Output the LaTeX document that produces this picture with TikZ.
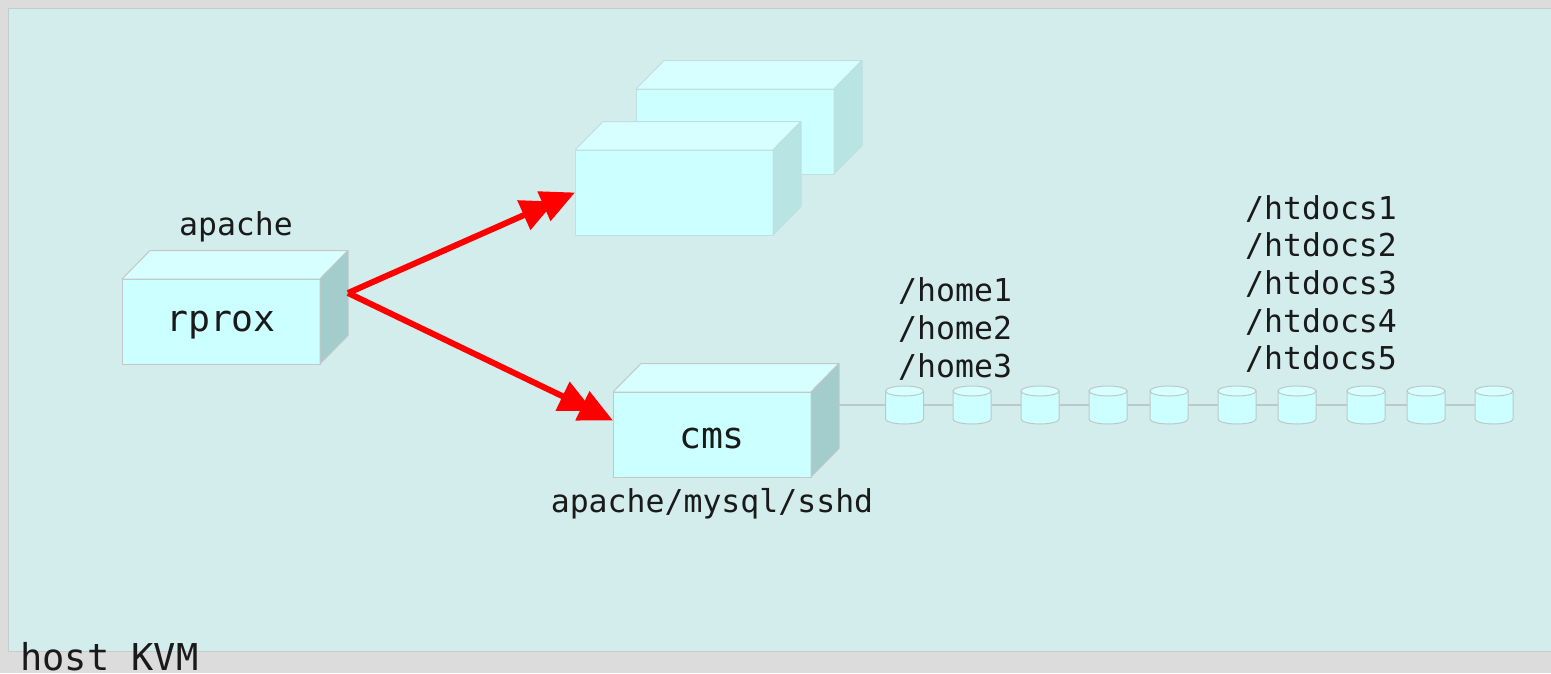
\documentclass[tikz,border=0pt]{standalone}
\usepackage{fontspec}
\setmainfont{DejaVu Sans Mono}
\usetikzlibrary{arrows.meta}
\definecolor{bgout}{HTML}{DCDCDC}
\definecolor{panel}{HTML}{D3EDED}
\definecolor{panelline}{HTML}{C4CCCC}
\definecolor{front}{HTML}{CCFFFF}
\definecolor{topf}{HTML}{D8FFFF}
\definecolor{sidedark}{HTML}{A3CCCC}
\definecolor{sidelight}{HTML}{B8E4E4}
\definecolor{edgegrey}{HTML}{C2C8C8}
\definecolor{edgelight}{HTML}{BEE0E0}
\definecolor{txt}{HTML}{1A1A1A}
\definecolor{linegrey}{HTML}{BFC8C8}
\newcommand{\cubebox}[6]{%
  % #1 name, #2 left, #3 top, #4 side colour, #5 edge colour, #6 text
  \node[frontface, draw=#5] (#1) at (#2+99,#3+42.5) {};
  \node[boxtext] (#1-text) at ([yshift=-4pt]#1.center) {#6};
  \filldraw[fill=topf, draw=#5, line width=1pt, line join=round]
    (#1.north west) -- ++(28,-28.5) -- ++(198,0) -- (#1.north east) -- cycle;
  \filldraw[fill=#4, draw=#5, line width=1pt, line join=round]
    (#1.north east) -- ++(28,-28.5) -- ++(0,85) -- (#1.south east) -- cycle;
}
\tikzset{
  frontface/.style={rectangle, fill=front, line width=1pt, minimum width=198pt,
    minimum height=85pt, inner sep=0pt, outer sep=0pt},
  boxtext/.style={text=txt, inner sep=0pt, font=\fontsize{36.5}{42}\selectfont},
  lbl/.style={text=txt, inner sep=0pt, font=\fontsize{31.5}{37.6}\selectfont},
  redarrow/.style={draw=red, line width=6pt,
    -{Triangle[length=34pt,width=31pt,sep=-12pt]Triangle[length=34pt,width=31pt]}},
  disk/.pic={
    \filldraw[fill=front, draw=linegrey, line width=1pt]
      (-19,0) -- (-19,28) arc[start angle=180,end angle=0,x radius=19,y radius=5]
      -- (19,0) -- cycle;
    \filldraw[fill=topf, draw=linegrey, line width=1pt] (0,0) ellipse [x radius=19, y radius=5];
  }
}
\begin{document}
\begin{tikzpicture}[x=1pt,y=-1pt]
\useasboundingbox (0,0) rectangle (1551,673);
\fill[bgout] (0,0) rectangle (1551,673);
\fill[panel] (8,8) rectangle (1551,651);
\draw[panelline, line width=1pt] (1551,8) -- (8,8) -- (8,651) -- (1551,651);

% boxes
\cubebox{back}{636}{89}{sidelight}{edgelight}{}
\cubebox{upper}{575}{150}{sidelight}{edgelight}{}
\cubebox{rprox}{122}{279}{sidedark}{edgegrey}{rprox}
\cubebox{cms}{613}{392}{sidedark}{edgegrey}{cms}

% labels
\node[lbl] (lapache) at (236,227) {apache};
\node[lbl] (lcms) at (712,504) {apache/mysql/sshd};
\node[lbl, align=left, anchor=west] (lhome) at (898,329) {/home1\\/home2\\/home3};
\node[lbl, align=left, anchor=west] (lht) at (1245,284) {/htdocs1\\/htdocs2\\/htdocs3\\/htdocs4\\/htdocs5};
\node[text=txt, inner sep=0pt, anchor=base west, font=\fontsize{37}{42}\selectfont] (host) at (20,670) {host KVM};

% storage line
\coordinate (cmsside) at (839,405);
\coordinate (lineend) at (1513,405);
\draw[linegrey, line width=1.2pt] (cmsside) -- (lineend);
\foreach \cx in {904.5,972,1040,1108,1169,1237,1297,1366,1426,1494}
  \pic at (\cx,391) {disk};

% arrows
\coordinate (src) at (348,293);
\draw[redarrow] (src) -- (upper.west);
\draw[redarrow] (src) -- ([yshift=14pt]cms.west);
\end{tikzpicture}
\end{document}
